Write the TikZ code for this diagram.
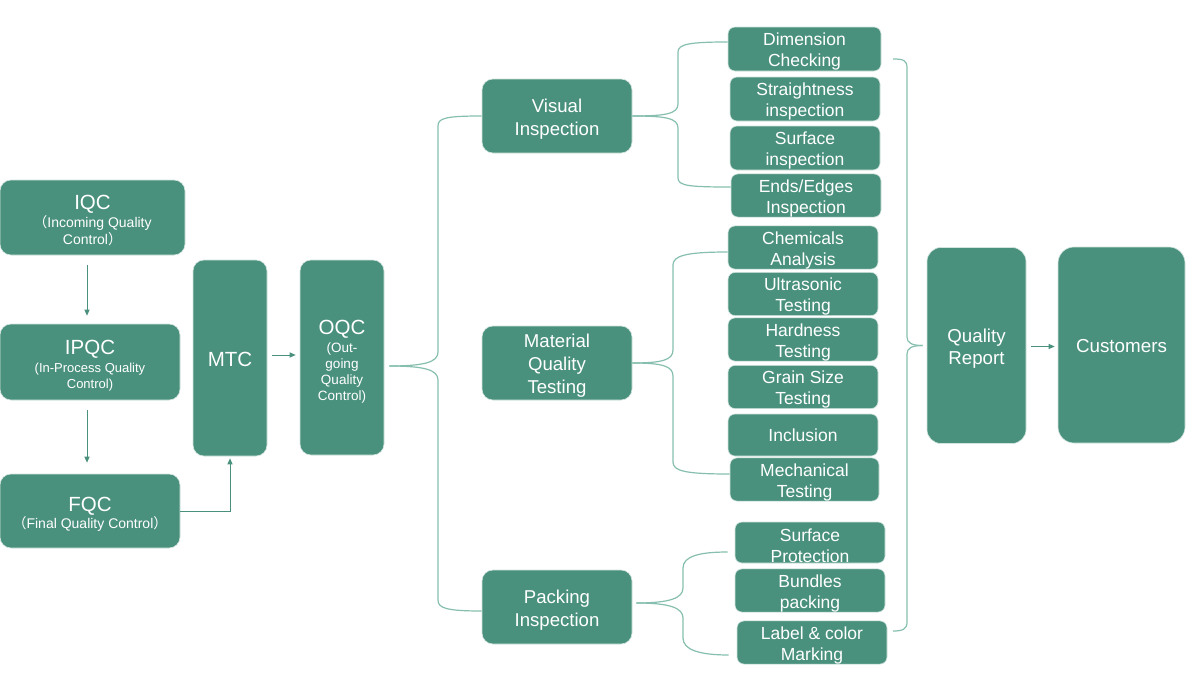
\documentclass[tikz,border=0pt]{standalone}
\usepackage{fontspec}
\setmainfont{Liberation Sans}
\newfontfamily\cjk{Noto Sans CJK SC}
\usetikzlibrary{arrows.meta}
\definecolor{boxg}{HTML}{4A917D}
\definecolor{lineg}{HTML}{86BFAF}
\newcommand\mylift[1]{\rule{0pt}{#1pt}}
\newcommand\lsm{\mylift{18.5}}
\newcommand\lmd{\mylift{19.3}}
\begin{document}
\begin{tikzpicture}[x=1pt,y=-1pt,
  box/.style={fill=boxg, draw=white!75!boxg, line width=0.6pt, text=white, align=center,
    inner sep=0pt, rounded corners=7pt, font=\fontsize{17.5}{21}\selectfont},
  bigr/.style={rounded corners=11pt},
  sz/.style 2 args={minimum width=#1pt, minimum height=#2pt},
  mid/.style={font=\fontsize{18.6}{23}\selectfont},
  arr/.style={draw=boxg, line width=1pt, -{Triangle[length=6pt,width=5pt]}},
  brc/.style={draw=lineg, line width=1.2pt}]
\useasboundingbox[fill=white] (0,0) rectangle (1200,696);

% left column
\node[box,bigr,sz={185}{75},font=\fontsize{14}{17}\selectfont] (iqc) at (92.5,217.5)
  {{\fontsize{20.5}{21}\selectfont\mylift{20.5}IQC}\\[1.5pt]{\cjk （}Incoming Quality\\Control{\cjk ）}};
\node[box,bigr,sz={180}{76},font=\fontsize{13}{16}\selectfont] (ipqc) at (90,362)
  {{\fontsize{20.5}{21}\selectfont\mylift{21.8}IPQC}\\[2pt](In-Process Quality\\Control)};
\node[box,bigr,sz={180}{74},font=\fontsize{14}{17}\selectfont] (fqc) at (90,511)
  {{\fontsize{20.5}{21}\selectfont\mylift{20.5}FQC}\\[0.5pt]{\cjk （}Final Quality Control{\cjk ）}};
\node[box,bigr,sz={74}{196},font=\fontsize{20.5}{21}\selectfont] (mtc) at (230,358) {\mylift{17}MTC};
\node[box,bigr,sz={84}{195},font=\fontsize{13.5}{16}\selectfont] (oqc) at (342,357.5)
  {{\fontsize{20.5}{21}\selectfont\mylift{22.5}OQC}\\[1.5pt](Out-\\going\\Quality\\Control)};

% middle column
\node[box,bigr,mid,sz={150}{74}] (vis) at (557,116) {\lmd Visual\\Inspection};
\node[box,bigr,mid,sz={150}{74}] (mat) at (557,363) {\lmd Material\\Quality\\Testing};
\node[box,bigr,mid,sz={150}{74}] (pack) at (557,607) {\lmd Packing\\Inspection};

% right list
\node[box,sz={153}{44}] (dim) at (804.5,49) {\lsm Dimension\\Checking};
\node[box,sz={150}{44}] (str) at (805,99) {\lsm Straightness\\inspection};
\node[box,sz={150}{44}] (surf) at (805,148) {\lsm Surface\\inspection};
\node[box,sz={150}{43}] (ends) at (806,195.5) {\lsm Ends/Edges\\Inspection};
\node[box,sz={150}{41}] (chem) at (803,247.5) {\lsm Chemicals\\Analysis};
\node[box,sz={150}{42}] (ultra) at (803,294) {\lsm Ultrasonic\\Testing};
\node[box,sz={150}{41}] (hard) at (803,339.5) {\lsm Hardness\\Testing};
\node[box,sz={150}{42}] (grain) at (803,387) {\lsm Grain Size\\Testing};
\node[box,sz={150}{42}] (incl) at (803,435) {Inclusion};
\node[box,sz={149}{41}] (mech) at (804.5,479.5) {\lsm Mechanical\\Testing};
\node[box,sz={150}{41}] (sp) at (810,542.5) {\lsm Surface\\Protection};
\node[box,sz={150}{41}] (bund) at (810,590.5) {\lsm Bundles\\packing};
\node[box,sz={150}{41}] (lab) at (812,642.5) {\lsm Label \& color\\Marking};

% final
\node[box,bigr,sz={99}{196},rounded corners=14pt,font=\fontsize{18.7}{22}\selectfont] (qr) at (976.5,345.5) {\lmd Quality\\Report};
\node[box,bigr,sz={127}{196},rounded corners=16pt,font=\fontsize{18.8}{23}\selectfont] (cust) at (1121.5,345) {\mylift{15.3}Customers};

% arrows
\draw[arr, shorten <=10pt, shorten >=8pt] ([xshift=-5.5pt]iqc.south) -- ([xshift=-3pt]ipqc.north);
\draw[arr, shorten <=10pt, shorten >=11pt] ([xshift=-3pt]ipqc.south) -- ([xshift=-3pt]fqc.north);
\draw[arr, shorten >=2pt] (fqc.east) -| (mtc.south);
\draw[arr, shorten <=5pt, shorten >=4pt] ([yshift=3pt]mtc.east) -- ([yshift=3pt]mtc.east -| oqc.west);
\draw[arr, shorten <=5pt, shorten >=3pt] ([yshift=-1pt]qr.east) -- ([yshift=-1pt]qr.east -| cust.west);

% OQC brace
\draw[brc] ([xshift=5pt,yshift=-8.5pt]oqc.east) .. controls (425,366) and (438,362) .. (438,352) -- (438,126) .. controls (438,118) and (446,116) .. (vis.west);
\draw[brc] ([xshift=5pt,yshift=-8.5pt]oqc.east) .. controls (425,366) and (438,370) .. (438,380) -- (438,600) .. controls (438,608) and (446,611) .. ([yshift=-4pt]pack.west);

% Visual brace
\draw[brc] (vis.east) .. controls (665,116) and (678,114) .. (678,104) -- (678,52) .. controls (678,44) and (690,42) .. ([yshift=7pt]dim.west);
\draw[brc] (vis.east) .. controls (665,116) and (678,118) .. (678,128) -- (678,178) .. controls (678,186) and (690,187) .. ([yshift=8.5pt]ends.west);

% Material brace
\draw[brc] (mat.east) .. controls (662,363) and (673,360) .. (673,350) -- (673,265) .. controls (673,256) and (685,252) .. ([yshift=-4.5pt]chem.west);
\draw[brc] (mat.east) .. controls (662,363) and (673,366) .. (673,376) -- (673,462) .. controls (673,471) and (685,474) .. ([yshift=5.5pt]mech.west);

% Packing brace
\draw[brc] ([xshift=4pt,yshift=4pt]pack.east) .. controls (670,603) and (683,598) .. (683,588) -- (683,568) .. controls (683,556) and (700,552) .. ([xshift=-7pt,yshift=-9.5pt]sp.west);
\draw[brc] ([xshift=4pt,yshift=4pt]pack.east) .. controls (670,603) and (683,608) .. (683,618) -- (683,638) .. controls (683,650) and (700,655) .. ([xshift=-8pt,yshift=-12.5pt]lab.west);

% Right brace
\coordinate (rtop) at (893,59);
\coordinate (rbot) at (893,631);
\draw[brc] (rtop) .. controls (903,59) and (907,60) .. (907,68) -- (907,337) .. controls (907,343) and (912,345.5) .. ([xshift=-4pt]qr.west);
\draw[brc] ([xshift=-4pt]qr.west) .. controls (912,345.5) and (907,348) .. (907,354) -- (907,622) .. controls (907,629) and (903,631) .. (rbot);
\end{tikzpicture}
\end{document}
